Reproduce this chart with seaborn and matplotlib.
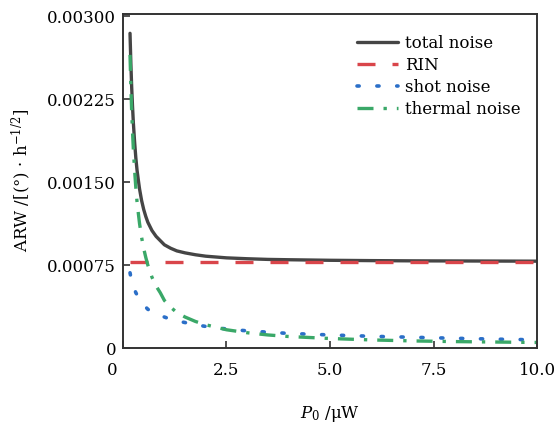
import matplotlib
matplotlib.use('Agg')
from matplotlib import pyplot as plt
from matplotlib import transforms
from matplotlib.ticker import FixedLocator, FixedFormatter
import seaborn as sns

# optical power P0 (uW) and the ARW contributions
power = [0.17, 0.19, 0.21, 0.23, 0.25, 0.28, 0.31, 0.34, 0.37, 0.4, 0.45, 0.5,
         0.55, 0.6, 0.7, 0.8, 0.9, 1.0, 1.15, 1.3, 1.5, 1.75, 2.0, 2.5, 3.0,
         3.5, 4.0, 5.0, 6.0, 7.0, 8.0, 9.0, 10.0]
total_noise = [0.002845, 0.002576, 0.002358, 0.002187, 0.00204, 0.001866,
               0.00172, 0.001606, 0.00152, 0.001438, 0.001333, 0.001253,
               0.00119, 0.001137, 0.001062, 0.001009, 0.000971, 0.000933,
               0.000902, 0.000878, 0.00086, 0.000843, 0.00083, 0.000815,
               0.000807, 0.000801, 0.000798, 0.000793, 0.00079, 0.000788,
               0.000787, 0.000786, 0.000785]
rin = [0.00078] * len(power)
shot_noise = [0.00068, 0.00064, 0.00061, 0.00058, 0.00056, 0.00053, 0.0005,
              0.00048, 0.00046, 0.00044, 0.00041, 0.00039, 0.00037, 0.00035,
              0.00033, 0.00031, 0.00029, 0.00028, 0.00026, 0.000245, 0.00023,
              0.00021, 0.000195, 0.000172, 0.000155, 0.000143, 0.000132,
              0.000118, 0.000106, 0.000097, 0.000088, 0.00008, 0.000074]
thermal_noise = [0.00265, 0.00237, 0.00214, 0.00196, 0.0018, 0.00161, 0.00145,
                 0.00132, 0.00122, 0.001125, 0.001, 0.0009, 0.00082, 0.00075,
                 0.00064, 0.00056, 0.0005, 0.00043, 0.00037, 0.00032, 0.00028,
                 0.00024, 0.00021, 0.000165, 0.000138, 0.000118, 0.000104,
                 0.000086, 0.000073, 0.000064, 0.000058, 0.000054, 0.00005]

x_ticks = [0, 2.5, 5.0, 7.5, 10.0]
x_labels = ['0', '2.5', '5.0', '7.5', '10.0']
y_ticks = [0, 0.00075, 0.0015, 0.00225, 0.003]
y_labels = ['0', '0.00075', '0.00150', '0.00225', '0.00300']

sns.set_theme(style='ticks')
plt.rcParams['font.family'] = ['DejaVu Serif']
plt.rcParams['mathtext.fontset'] = 'dejavuserif'
plt.rcParams['text.color'] = 'black'
plt.rcParams['axes.labelcolor'] = 'black'


def main():
    fig = plt.figure(figsize=(5.58, 4.23), dpi=100)
    ax = fig.add_axes([0.2204, 0.1773, 0.7420, 0.7897])

    sns.lineplot(x=power, y=total_noise, ax=ax, color='#454545', lw=2.4,
                 label='total noise')
    sns.lineplot(x=power, y=rin, ax=ax, color='#d9454a', lw=2.4,
                 linestyle=(0, (5.4, 5.1)), label='RIN')
    sns.lineplot(x=power, y=shot_noise, ax=ax, color='#2b6fc8', lw=2.6,
                 linestyle=(0, (0.6, 4.9)), dash_capstyle='round',
                 label='shot noise')
    sns.lineplot(x=power, y=thermal_noise, ax=ax, color='#3aa868', lw=2.4,
                 linestyle=(0, (4.8, 3.0, 1.0, 3.0)), label='thermal noise')

    ax.set_xlim(0, 10)
    ax.set_ylim(0, 0.00302)
    ax.xaxis.set_major_locator(FixedLocator(x_ticks))
    ax.xaxis.set_major_formatter(FixedFormatter(x_labels))
    ax.yaxis.set_major_locator(FixedLocator(y_ticks))
    ax.yaxis.set_major_formatter(FixedFormatter(y_labels))
    ax.tick_params(direction='in', length=5, width=1.2, colors='#333333',
                   labelcolor='black', labelsize=12)
    ax.tick_params(axis='x', pad=10)
    ax.tick_params(axis='y', pad=5)
    for s in ax.spines.values():
        s.set_linewidth(1.4)
        s.set_color('#333333')

    # the "0" under the x axis sits a little left of the spine
    first = ax.get_xticklabels()[0]
    first.set_transform(first.get_transform() +
                        transforms.ScaledTranslation(-0.11, 0, fig.dpi_scale_trans))

    ax.set_xlabel(r'$P_0$ /μW', fontsize=12, labelpad=18)
    ax.set_ylabel(r'ARW /[(°) · h$^{-1/2}$]', fontsize=12, labelpad=10)

    ax.legend(loc='upper right', frameon=False, fontsize=12,
              handlelength=2.45, handletextpad=0.4, labelspacing=0.3,
              borderaxespad=0.6, bbox_to_anchor=(1.0, 0.988))

    fig.savefig('out.png', dpi=100)


if __name__ == '__main__':
    main()
